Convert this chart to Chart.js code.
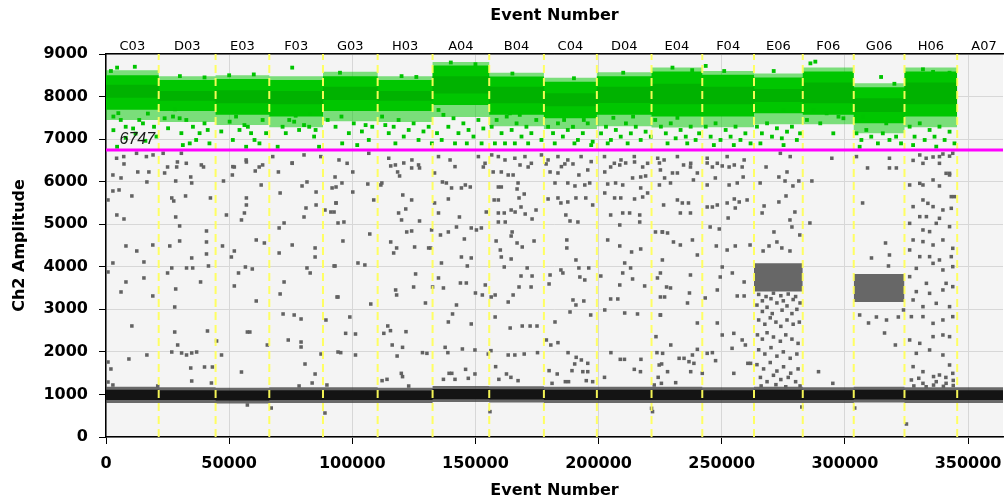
<!DOCTYPE html>
<html>
<head>
<meta charset="utf-8">
<script src="https://cdn.jsdelivr.net/npm/chart.js@4.4.1/dist/chart.umd.min.js"></script>
<style>
  html, body { margin: 0; padding: 0; background: #fff; }
  #wrap { width: 1007px; height: 502px; }
</style>
</head>
<body>
<div id="wrap"><canvas id="droplets" width="1007" height="502"></canvas></div>
<script>
// wells in run order and the event number where each one starts
const wells = ['C03', 'D03', 'E03', 'F03', 'G03', 'H03', 'A04', 'B04', 'C04', 'D04', 'E04', 'F04', 'E06', 'F06', 'G06', 'H06', 'A07'];
const wellStart = [0, 21400, 44500, 66300, 88100, 110300, 132600, 155600, 177800, 199300, 221500, 242100, 263100, 282900, 303600, 324200, 345600];
const lastEvent = 367400;   // A07 runs on past the visible edge
const axisMax = 364200;
const xTickValues = [0, 50000, 100000, 150000, 200000, 250000, 300000, 350000];
const threshold = 6747;

// positive (green) droplet band per well, C03..H06
const posFringeHi = [8620, 8480, 8500, 8480, 8580, 8480, 8810, 8560, 8440, 8570, 8680, 8600, 8540, 8680, 8310, 8680];
const posHi       = [8500, 8390, 8410, 8390, 8480, 8390, 8730, 8470, 8350, 8480, 8590, 8510, 8450, 8590, 8220, 8590];
const posCoreHi   = [8280, 8130, 8150, 8130, 8230, 8130, 8480, 8230, 8080, 8230, 8300, 8230, 8180, 8330, 7960, 8330];
const posCoreLo   = [7970, 7900, 7840, 7820, 7920, 7900, 8070, 7840, 7770, 7850, 7820, 7820, 7870, 7840, 7640, 7820];
const posLo       = [7690, 7660, 7570, 7530, 7660, 7660, 7800, 7570, 7490, 7570, 7530, 7530, 7610, 7570, 7370, 7530];
const posFringeLo = [7450, 7400, 7330, 7280, 7420, 7400, 7520, 7300, 7240, 7300, 7270, 7280, 7350, 7350, 7140, 7280];

// negative (black) droplet band per well, C03..A07
const negFringeHi = [1180, 1170, 1160, 1170, 1170, 1160, 1200, 1190, 1180, 1180, 1180, 1170, 1180, 1170, 1180, 1170, 1170];
const negHi       = [1110, 1100, 1090, 1100, 1100, 1090, 1130, 1120, 1110, 1110, 1110, 1100, 1110, 1100, 1110, 1100, 1100];
const negLo       = [870, 870, 860, 870, 870, 870, 890, 880, 870, 870, 870, 870, 870, 870, 880, 870, 870];
const negFringeLo = [800, 800, 790, 800, 800, 800, 820, 810, 800, 800, 800, 800, 800, 800, 810, 800, 800];

// dense grey clusters (E06, G06)
const clusterStart = [263100, 303600];
const clusterEnd   = [282900, 324200];
const clusterHi    = [4080, 3830];
const clusterLo    = [3420, 3170];

// scattered green droplets [thousand events, amplitude]
const greenPts = [
  [3,7530],[5,7610],[8,7290],[11,7250],[3,7210],[4.5,6820],[8,7030],[13.5,7450],[15,7370],[17,7600],[19.5,7290],[20.5,7060],[6,7450],[16,6960],[12,7130],[11.7,8700],[4.5,8680],[2,8600],
  [23.8,7490],[25.2,7255],[27.2,7530],[29.9,7490],[30.6,7140],[32.6,7450],[35.3,7290],[36.6,6980],[38,7140],[40,7370],[41.3,7215],[42,6900],[34,6900],[31.2,6860],[28,7700],[30,8480],[40,8450],
  [46.8,7180],[51.5,6980],[54.2,7215],[56.2,7330],[57.6,7290],[58.9,7140],[60.3,6980],[62.3,6900],[56.9,6820],[65,7140],[63.6,7450],[52.8,7530],[50.2,7410],[50,8500],[60,8520],
  [69.7,6820],[71.7,7290],[73,7140],[74.4,7450],[76.4,7410],[78.4,7215],[80.4,7330],[82.5,7290],[84.5,7060],[85.1,7215],[86.5,6820],[75.6,8680],[77,7550],[83,7600],
  [93.2,7290],[95.6,7530],[98.6,7140],[100.6,7370],[103.9,7180],[105.4,7330],[106.7,6980],[108.1,7290],[95.9,6900],[90,7450],[102,6860],[95,8560],
  [112.1,7530],[113.4,7330],[114.8,7140],[116.8,7290],[118.8,7450],[120.9,7060],[122.9,7215],[124.9,7370],[126.9,6980],[128.9,7180],[131,7290],[132.3,6900],[117.5,6900],[120,8480],[126,8460],
  [135,7685],[137,7570],[139,7290],[141.1,7490],[143.1,7140],[145.1,7370],[147.2,7215],[149.2,7060],[151.2,7450],[153.2,7250],[136.3,6980],[141.7,6900],[146.5,6900],[152.5,6900],[134.4,7140],[140,8800],[150,8760],
  [156.6,7290],[158.6,7450],[160.6,7140],[162.7,7530],[164.7,7215],[166.7,7370],[168.7,7060],[170.7,7290],[172.7,7140],[174.7,7450],[176.8,6980],[157.9,6900],[162,6900],[166,6900],[171.4,6900],[164,7606],[168,7570],[165,8540],
  [179.5,7290],[181.5,7140],[183.5,7370],[185.5,7060],[187.5,7215],[189.6,7290],[191.6,6980],[193.6,7140],[195.6,7370],[197.6,6940],[182.2,6900],[190.2,6900],[197,6860],[186,7450],[194,7450],[190,8430],
  [201,7136],[203,7290],[205,6980],[207,7215],[209,7058],[211.1,7370],[213.1,7136],[215.1,7290],[217.1,6980],[219.1,7175],[221.2,7058],[203.7,6900],[211.8,6900],[214,7530],[206,7500],[210,8560],
  [225.3,7293],[227.3,7136],[229.3,7371],[231.3,7019],[233.3,7215],[235.4,7058],[237.4,7293],[239.4,6980],[240.8,7136],[228,6900],[236,6900],[223,7450],[232,7500],[230,8680],[238,8620],
  [243.5,7293],[245.5,7058],[247.5,7371],[249.5,6980],[251.6,7215],[253.6,7058],[255.6,7293],[257.6,6980],[259.6,7136],[261.7,6900],[246.8,6860],[254.9,6860],[243.5,8720],[251,8600],
  [264.3,7293],[266.3,7136],[268.4,7371],[270.4,7058],[272.4,7254],[274.4,7019],[276.5,7175],[278.5,7293],[280.5,6980],[281.8,7136],[265.7,6900],[275.1,6860],[271.1,8600],[275.1,7685],
  [284.6,7450],[287.3,7685],[290,7371],[292.6,7606],[295.3,7136],[297.4,7528],[299.4,7490],[288,8820],[286,8780],
  [304.7,7136],[306.7,6980],[308.7,7215],[310.7,7058],[313.4,6900],[315.4,7136],[318.1,6980],[320.8,7058],[322.8,6900],[307.4,7528],[316.8,7371],[314.7,8460],[320.1,8300],[306,6820],
  [326.3,7293],[328.3,7058],[330.4,7371],[332.4,6980],[334.4,7215],[336.4,7058],[338.4,7293],[340.5,6980],[342.5,7175],[344.5,6900],[327.7,6860],[337.1,6823],[331.7,8640],[335.8,8580],[342.5,8560]
];

// scattered grey droplets [thousand events, amplitude]
const greyPts = [
  [2.8,6157],[6.1,6087],[7.3,6416],[0.8,5570],[2.8,5781],[5.3,5805],[10.5,5664],[4.4,5217],[7.3,5123],[12.9,6228],[16.6,5993],[17.4,6228],[8.1,4489],[12.5,4371],[19,4512],[15.4,4113],[2.8,4089],[0.8,3878],[8.1,3643],[6.1,3408],[15.4,3737],[19,3314],[10.5,2609],
  [23.8,6204],[25,6345],[28.7,6345],[29,6463],[28.3,6016],[26.7,5617],[27.5,5546],[32.3,5664],[34.4,6110],[34.8,5969],[28.3,5170],[29.9,4959],[25.9,4489],[29.9,4606],[34.8,4207],[26.7,3972],[25,3854],[32.7,3972],[35.2,3972],[28.3,3478],[27.9,3055],[38.4,3643],[40.8,4841],[40.8,4583],[40.8,4301],[41.6,4019],[42.4,5617],[39.6,6345],
  [47.7,6016],[51.3,6157],[52.1,6345],[57,6463],[60.6,6251],[48.9,5217],[55,5100],[57,5452],[56.2,5264],[57,5617],[47.3,4489],[50.9,4230],[52.1,4371],[53.8,3854],[56.6,3995],[59.4,3948],[61,4630],[64.3,4559],[52.1,3549],[61,3196],[62.2,6345],[63,5922],
  [70,6228],[70.7,5734],[70.3,4912],[72.3,5029],[70.3,4324],[72.3,3643],[70.7,3361],[71.9,2891],[76.4,2867],[79.2,2773],[75.6,6439],[79.6,5899],[81.6,5993],[81.2,5381],[80.4,5170],[84.9,4442],[84.9,4230],[81.6,3972],[82.9,3854],[75.6,4512],[85.3,5452],[85.3,5757],
  [88.9,5334],[91.3,5287],[93.4,5499],[92.6,4019],[93.8,3290],[89.3,2749],
  [0.8,1292],[0.8,1762],[2,1598],[2.8,1222],[9.3,1833],[16.6,1927],[21,1199],[26.7,1997],[27.9,2467],[29.1,2162],[30.7,1974],[32.7,1927],[34.8,1974],[36.8,1997],[34.4,1621],[34.8,1316],[40,1645],[41.2,2491],[43.2,1645],[42.8,1269],[44.9,2256],[46.9,1927],[55,1527],[57.4,752],[57.4,2467],[58.4,2467],[65.5,2162],[67.1,681],[74,2279],[79.2,2232],[79.2,2115],[80.8,1715],[84.9,1480],[83.7,1269],[78.4,1199],[87.3,1950],[88.9,564],[89.7,1222],[94.2,1997],
  [93,6110],[95.8,5969],[93.4,5875],[91.8,5852],[100.2,6228],[100.2,5757],[93.4,5499],[92.6,5287],[94.2,5029],[96.6,5052],[96.2,4606],[93,4019],[102.3,4089],[105.1,4042],[107.5,3125],[94.2,3290],[99,2820],[106.3,5945],[108.7,5570],[107.1,4770],
  [111.6,5922],[112,5969],[115.6,6369],[118.4,6228],[119.2,6134],[120.9,6439],[124.1,6322],[127.3,6322],[120.5,5687],[124.1,5570],[121.7,5358],[118.8,5264],[120,5100],[127.3,5076],[122.1,4818],[124.1,4841],[115.6,4583],[118,4442],[116.8,4324],[125.3,4465],[131,4442],[125.7,3831],[117.6,3455],[118,3337],[124.9,3525],[129.7,3149],[132.6,3525],[114.4,2609],
  [133.4,6204],[136.6,5993],[138.2,5969],[140.3,5852],[144.3,5852],[145.9,5922],[147.9,5875],[133.4,5499],[135,5264],[139,5593],[143.5,5170],[142.3,4935],[139,4818],[131.8,4442],[135.8,4747],[132.2,4865],[145.5,4653],[148.3,4912],[150.4,4865],[152.4,4912],[136.2,4089],[144.3,4230],[148.3,4207],[146.7,4019],[135,3737],[137,3502],[143.9,3619],[146.3,3619],[150,3384],[152.8,3337],[142.3,3102],[140.7,2891],[139,2703],[148.3,2656],[154,3572],
  [157.2,6228],[153.2,6345],[160.5,6228],[163.3,6157],[165.3,6157],[168.1,6392],[171.4,6345],[159.3,5875],[160.5,5875],[167.3,5969],[166.9,5828],[169.8,5710],[167.7,5617],[168.5,5405],[157.6,5570],[159.3,5570],[154.4,5287],[159.3,5264],[161.7,5264],[164.5,5334],[166.1,5287],[170.2,5240],[173,5123],[174.6,5334],[159.3,5052],[162.1,5052],[164.9,4818],[164.5,4723],[158.4,4606],[166.9,4559],[169,4465],[173.8,4606],[160.1,4394],[160.5,4230],[164.5,4183],[161.7,3995],[171,3972],[168.5,3783],[173,3783],[167.7,3525],[172.6,3525],[156.4,3290],[158,3337],[163.3,3172],[165.3,3337],[158,2820],[164.1,2561],[169,2608],[172.2,2608],[175,2608],
  [178.7,6416],[180.3,6228],[183.5,6204],[182.3,5969],[187.5,5969],[190.4,5899],[194.4,5922],[196.4,5969],[186.3,6416],[189.6,6416],[192,6157],[195.6,6275],[179.5,5593],[183.5,5617],[184.7,5499],[187.5,5523],[190.8,5617],[194.8,5617],[197.6,5452],[186.7,5217],[188.4,5076],[191.6,5052],[187.1,4630],[187.1,4442],[190.8,4160],[192,3972],[196,3972],[184.7,3925],[185.5,3854],[180.3,3807],[192.4,3760],[179.9,3596],[194.4,3690],[189.6,3220],[190.8,3102],[194,3196],[188.4,2938],[196.8,2867],[182.3,2703],
  [202.5,6228],[204.9,6345],[208.6,6392],[211,6439],[214.6,6463],[217.9,6345],[224.7,6439],[203.7,5945],[206.9,5969],[209.8,5922],[213.8,6087],[217.1,6110],[219.1,6134],[217.1,5852],[202.5,5734],[206.5,5617],[209,5617],[214.6,5593],[217.9,5640],[219.9,5734],[204.9,5217],[209.8,5264],[212.6,5264],[216.7,5217],[208.6,4982],[216.7,5052],[203.7,4630],[208.6,4489],[213.4,4348],[217.1,4418],[210.6,4089],[213,3972],[209.8,3854],[213.8,3713],[218.7,3549],[208.6,3572],[200.9,3783],[204.9,3243],[207.8,3243],[202.5,2985],[210.6,2914],[215.8,2891],[225.1,2867],[225.1,3290],[223.9,3737],[223.1,4818],[225.9,4818],
  [225.1,6275],[226.8,6087],[230,6204],[232,6204],[234.5,6392],[237.3,6345],[238.5,6040],[240.1,6204],[224.7,5922],[229.2,5969],[226.4,5452],[232,5570],[234,5499],[236.5,5499],[233.2,5264],[237.3,5264],[225.9,4818],[228,4794],[230.4,4583],[233.2,4512],[238.1,4630],[240.1,4277],[225.9,4160],[225.1,3854],[227.6,3525],[229.2,3502],[226.8,3290],[237.3,3807],[236.9,3384],[236.1,3149],[225.1,2867],[240.1,2679],
  [244.1,6439],[246.2,6345],[250.2,6369],[253,6345],[255.1,6392],[258.3,6345],[244.1,5922],[247.4,6087],[253,5922],[256.3,5969],[258.7,6110],[244.1,5405],[246.2,5405],[248.2,5452],[252.2,5499],[255.1,5593],[257.1,5523],[260.3,5570],[255.5,5381],[252.6,5146],[245.3,4935],[249,4888],[247.8,4489],[252.2,4394],[255.5,4489],[261.5,4512],[250.2,3995],[249.4,3760],[254.3,3854],[259.1,3643],[248.2,3455],[256.3,3314],[259.1,3314],[243.3,3267],[248.2,2679],
  [265.6,5969],[268,6345],[273.2,6110],[275.7,6016],[278.9,5899],[281.3,6016],[276.5,6228],[267.2,5429],[266.4,5264],[273.2,5523],[276.1,5664],[279.7,5287],[277.7,5100],[278.5,4935],[271.2,4818],[272.4,4583],[274.4,4442],[269.2,4489],[266.8,4371],[277.7,4371],[281.7,4747],[286.6,6016],[285.8,5029],
  [265,3350],[268,3300],[271,3380],[274,3320],[277,3360],[280,3300],[266.5,3200],[270,3250],[275,3200],[279,3230],
  [264.3,3100],[266.5,2950],[268.4,3050],[270.5,2900],[272.4,3150],[274.5,2980],[276.5,3080],[278.5,2900],[280.5,3000],[281.8,3150],
  [265,2750],[267.5,2650],[269.7,2800],[272,2700],[274,2600],[276.5,2750],[279,2650],[281.5,2700],
  [264.5,2400],[266.5,2300],[268.4,2450],[271,2350],[273.8,2250],[276,2400],[278.5,2300],[281,2200],
  [265,2050],[267.5,1950],[270,2100],[272.4,1900],[275,2000],[277.8,1850],[280.5,1950],
  [264.3,1700],[267,1600],[269.7,1750],[272.4,1550],[275.1,1650],[278,1500],[281,1600],
  [265.7,1400],[268.4,1300],[271,1450],[274,1350],[277,1400],[280,1300],[281.8,1200],[266,1200],[272,1230],[276,1180],
  [307.2,5499],[316.5,4559],[310.8,4207],[318.1,4277],[317.7,4019],[309.2,6322],[318.1,6322],[320.9,6322],[306,2867],[309.6,2679],[312.8,2820],[316.9,2749],[321.7,2820],[323.8,2985],[316.1,2444],[320.5,2162],[304,681],
  [289.3,1535],[295.1,1261],[282.5,705],[294.7,6550],
  [326.3,5922],[330.4,5961],[331.7,5922],[335.8,6040],[338.4,5899],[341.1,6196],[342.5,6157],[343.2,5648],[344.5,5648],[331.7,5570],[333.7,5491],[327.7,5413],[335.8,5413],[339.8,5335],[343.2,5374],[330.4,5178],[333.1,5178],[338.4,5139],[326.3,5021],[331.7,4865],[334.4,4826],[337.1,5021],[342.5,4943],[327.7,4630],[331.7,4591],[335.8,4512],[339.8,4630],[343.8,4434],[326.3,4395],[330.4,4238],[334.4,4238],[338.4,4160],[343.2,4238],[329,3963],[335.8,4081],[339.8,3925],[343.8,4003],[326.3,3768],[333.1,3611],[341.1,3611],[343.8,3533],[329,3416],[334.4,3376],[339.8,3455],[327.7,3220],[331.7,3063],[337.1,3141],[342.5,3063],[327,2828],[331.7,2828],[335.8,2671],[339.8,2750],[343.8,2828],
  [330.4,6627],[335.8,6580],[339.8,6650],[342.5,6600],[327.7,6500],[331.7,6431],[338.4,6431],[342.5,6196],
  [326.3,2280],[330.4,2201],[335.8,2358],[339.8,2397],[342.5,2358],[329,1966],[334.4,2045],[339.8,1927],[327.7,1653],[331.7,1535],[338.4,1457],[342.5,1692],[343.8,1496],[327,1340],[331.7,1261],[337.1,1300],[341.1,1261],[325,305],
  [328,1200],[333,1180],[336,1220],[340,1190],[344,1210],[330,1380],[336,1420],[341,1400],[344,1330],
  [97.3,2436],[101.3,2420],[95.3,1982],[101.3,1927],[112.8,2436],[116.2,2162],[120.4,2107],[118.2,1903],[115.5,2499],[121.8,2475],[128.5,1982],[130.3,1966],[137.7,2107],[138.8,1982],[144.7,2068],[149.8,2045],[156.3,2029],[155.2,1950],[163.3,1927],[166,1927],[169.8,1950],[175.2,1982],[178.8,2280],[180.6,2162],[183.5,2217],[187.6,1982],[190.9,1872],[193,1810],[195.6,1731],
  [112.1,1324],[114.1,1355],[119.9,1496],[120.4,1418],[122.9,1198],[137,1355],[139.3,1496],[140.4,1496],[141.7,1355],[146,1590],[147.1,1379],[149.8,1481],[158.2,1653],[159.5,1355],[162.6,1481],[164.4,1402],[167.3,1324],[179.9,1559],[181.1,1261],[183.2,1481],[186.5,1300],[187.8,1300],[190.3,1716],[189.2,1559],[193.6,1535],[195.6,1535],[195,1324],[197.6,1300],[202.4,1402],[205,1982],[208.8,1825],[210.5,1825],[217.2,1825],[214.5,1590],[217,1535],[223.3,2358],[225.6,1716],[223.7,1982],[224.2,1402],[222.6,1222],[155.9,596],[221.5,674],[221.9,596],
  [226,1966],[229.3,2162],[228,1535],[231.3,1277],[232.7,1849],[234.7,1849],[236.7,1770],[238.1,1927],[237.4,1535],[238.7,1731],[242.1,1496],[244.1,1966],[246.2,1982],[247.5,1794],[254.2,2084],[254.9,1496],[259.6,2162],[260.6,1731],[261.7,1731],[224.6,1692],[225.5,1261],[240.1,2060],[250.2,2397],[254.9,2436],[258.3,2280],
  [94.6,6510],[97.9,6432],[106.7,6667],[114.8,6550],[117.5,6393],[124.2,6510],[126.9,6393],[135,6589],[139.7,6510],[141.7,6353],[151.2,6589],[153.9,6432],[156.6,6628],[159.3,6589],[162,6510],[166,6550],[170.1,6589],[172.7,6432],[176.8,6628],[179.5,6510],[183.5,6589],[184.9,6353],[187.5,6510],[192.9,6589],[197,6471],[202.4,6589],[206.4,6432],[209.1,6510],[214.5,6589],[219.9,6432],[224,6550],
  [226.6,6510],[232,6589],[237.4,6432],[244.1,6550],[248.2,6432],[252.2,6589],[259.1,6510],[273.8,6667],[277.8,6589],[304.7,6589],[318.1,6550],[333,6550],[338.4,6589],[343.8,6667],
  [4.3,6550],[7.2,6589],[12.4,6667],[16.4,6589],[19.1,6628],[23.2,6667],[30.6,6667],[32.6,6432],[38.7,6393],[51.5,6353],[56.9,6510],[63.6,6393],[67.7,6589],[75.6,6432],[80.4,6628],[87.2,6589]
];

// per-well band -> stepped points (value held from well start to next start)
function steps(values) {
  const pts = values.map((v, i) => ({ x: wellStart[i], y: v }));
  const end = values.length < wellStart.length ? wellStart[values.length] : lastEvent;
  pts.push({ x: end, y: values[values.length - 1] });
  return pts;
}

function band(hiPts, loPts, color, order) {
  const edge = { type: 'line', borderWidth: 0, pointRadius: 0, stepped: true, order: order };
  return [
    Object.assign({}, edge, { data: hiPts, fill: false }),
    Object.assign({}, edge, { data: loPts, fill: '-1', backgroundColor: color })
  ];
}

const wellEnds = wellStart.slice(1).concat([lastEvent]);
const wellCenters = wellStart.map((s, i) => (s + wellEnds[i]) / 2);

const datasets = [];
datasets.push(...band(steps(negFringeHi), steps(negFringeLo), 'rgba(70,70,70,0.8)', 12));
datasets.push(...band(steps(negHi), steps(negLo), '#141414', 11));
datasets.push(...band(steps(posFringeHi), steps(posFringeLo), 'rgba(0,200,0,0.5)', 12));
datasets.push(...band(steps(posHi), steps(posLo), 'rgb(0,198,0)', 11));
datasets.push(...band(steps(posCoreHi), steps(posCoreLo), 'rgb(0,178,0)', 10));
clusterStart.forEach((s, i) => {
  const hi = [{ x: s, y: clusterHi[i] }, { x: clusterEnd[i], y: clusterHi[i] }];
  const lo = [{ x: s, y: clusterLo[i] }, { x: clusterEnd[i], y: clusterLo[i] }];
  datasets.push(...band(hi, lo, '#676767', 11));
});

datasets.push({
  type: 'scatter',
  data: greyPts.map(p => ({ x: p[0] * 1000, y: p[1] })),
  pointStyle: 'rect', pointRadius: 2.5, borderWidth: 0,
  backgroundColor: '#626262', order: 4
});
datasets.push({
  type: 'scatter',
  data: greenPts.map(p => ({ x: p[0] * 1000, y: p[1] })),
  pointStyle: 'rect', pointRadius: 2.7, borderWidth: 0,
  backgroundColor: 'rgb(0,196,0)', order: 3
});

// yellow dashed separators between wells
const sepData = [];
wellStart.slice(1).forEach(b => { sepData.push({ x: b, y: 0 }, { x: b, y: 9000 }, { x: b, y: null }); });
datasets.push({
  type: 'line', data: sepData, borderColor: 'rgba(255,255,90,0.95)', borderWidth: 2,
  borderDash: [8, 5], pointRadius: 0, fill: false, spanGaps: false, order: 1
});

// threshold line
datasets.push({
  type: 'line', data: [{ x: 0, y: threshold }, { x: lastEvent, y: threshold }],
  borderColor: '#ff00ff', borderWidth: 3, pointRadius: 0, fill: false, order: 0
});

const plotBg = {
  id: 'plotBg',
  beforeDraw(chart) {
    const a = chart.chartArea, ctx = chart.ctx;
    ctx.save();
    ctx.fillStyle = '#f4f4f4';
    ctx.fillRect(a.left, a.top, a.right - a.left, a.bottom - a.top);
    ctx.restore();
  },
  afterDatasetsDraw(chart) {
    const ctx = chart.ctx;
    ctx.save();
    ctx.font = 'italic 16px "Liberation Sans"';
    ctx.fillStyle = '#1a1a1a';
    ctx.textAlign = 'left';
    ctx.textBaseline = 'bottom';
    ctx.fillText(String(threshold), chart.scales.x.getPixelForValue(5500), chart.scales.y.getPixelForValue(threshold) - 2);
    ctx.restore();
  }
};

const tickFont = { family: 'DejaVu Sans', size: 16, weight: 'bold' };
const titleFont = { family: 'DejaVu Sans', size: 16, weight: 'bold' };

// the plot runs off the right edge of the window, like the original export
function noSidePadding(s) { s.paddingLeft = 0; s.paddingRight = 0; }

new Chart(document.getElementById('droplets'), {
  type: 'scatter',
  data: { datasets: datasets },
  options: {
    responsive: false,
    animation: false,
    devicePixelRatio: 1,
    layout: { padding: 0 },
    plugins: { legend: { display: false }, tooltip: { enabled: false } },
    scales: {
      x: {
        type: 'linear', position: 'bottom', min: 0, max: axisMax,
        afterBuildTicks: s => { s.ticks = xTickValues.map(v => ({ value: v })); },
        ticks: { autoSkip: false, maxRotation: 0, color: '#000', font: tickFont, padding: 10, callback: v => String(v) },
        grid: { color: '#d7d7d7', tickColor: '#000', tickLength: 7 },
        border: { color: '#000', width: 1.5 },
        title: { display: true, text: 'Event Number', color: '#000', font: titleFont, padding: { top: 0, bottom: 2 } },
        afterFit: s => { s.height = 65; noSidePadding(s); }
      },
      xTop: {
        type: 'linear', position: 'top', min: 0, max: axisMax,
        afterBuildTicks: s => { s.ticks = wellCenters.map(v => ({ value: v })); },
        ticks: { autoSkip: false, maxRotation: 0, color: '#000', font: { family: 'DejaVu Sans', size: 13 }, padding: 0, callback: (v, i) => wells[i] },
        grid: { drawOnChartArea: false, drawTicks: false },
        border: { color: '#000', width: 1.5 },
        title: { display: true, text: 'Event Number', color: '#000', font: titleFont, padding: { top: 6, bottom: 0 } },
        afterFit: s => { s.height = 54; noSidePadding(s); }
      },
      y: {
        min: 0, max: 9000,
        ticks: { stepSize: 1000, color: '#000', font: tickFont, padding: 11, callback: v => String(v) },
        grid: { color: '#d7d7d7', tickColor: '#000', tickLength: 7 },
        border: { color: '#000', width: 1.5 },
        title: { display: true, text: 'Ch2 Amplitude', color: '#000', font: titleFont, padding: { top: 10, bottom: 0 } },
        afterFit: s => { s.width = 106; }
      }
    }
  },
  plugins: [plotBg]
});
</script>
</body>
</html>
